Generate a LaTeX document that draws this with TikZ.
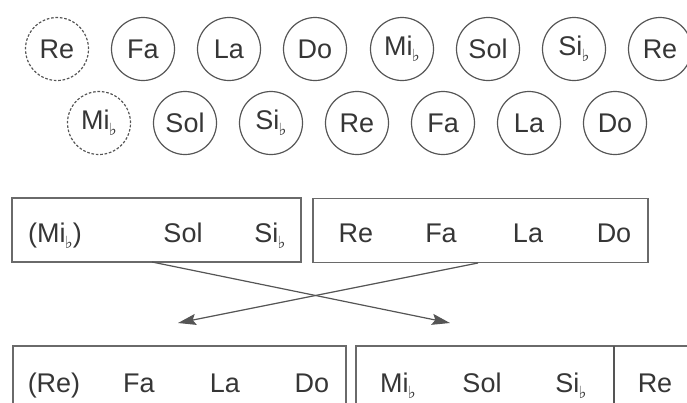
\documentclass[tikz,border=0pt]{standalone}
\usepackage{fontspec}
\setmainfont{Liberation Sans}
\newfontfamily\symfont{DejaVu Sans}
\usetikzlibrary{arrows.meta}
% small lowered flat sign after a note name
\newcommand{\fl}{\kern-0.03em\raisebox{-0.45ex}{\scalebox{0.62}{\symfont ♭}}}
\definecolor{linegray}{HTML}{555555}
\definecolor{framegray}{HTML}{6A6A6A}
\definecolor{textgray}{HTML}{363636}
\begin{document}
\begin{tikzpicture}[x=1pt,y=-1pt,
  font=\fontsize{27}{30}\selectfont,
  note/.style={circle, draw=linegray, line width=1.2pt, minimum size=63pt,
    inner sep=0pt, text=textgray},
  ghost/.style={note, dash pattern=on 2.6pt off 1.8pt},
  frame/.style={draw=framegray, line width=1.3pt, inner sep=0pt},
  lbl/.style={anchor=base, inner sep=0pt, text=textgray},
  link/.style={draw=linegray, line width=1.2pt,
    -{Stealth[length=18pt,width=11pt,inset=3pt]}}]
\useasboundingbox (0,0) rectangle (687,402);
\clip (0,0) rectangle (687,402);

% first row of notes
\node[ghost] (r1a) at (57,49)  {Re};
\node[note]  (r1b) at (143,49) {Fa};
\node[note]  (r1c) at (229,49) {La};
\node[note]  (r1d) at (315,49) {Do};
\node[note]  (r1e) at (402,49) {Mi\fl};
\node[note]  (r1f) at (488,49) {Sol};
\node[note]  (r1g) at (574,49) {Si\fl};
\node[note]  (r1h) at (660,49) {Re};

% second row of notes
\node[ghost] (r2a) at (99,123)  {Mi\fl};
\node[note]  (r2b) at (185,123) {Sol};
\node[note]  (r2c) at (271,123) {Si\fl};
\node[note]  (r2d) at (357,123) {Re};
\node[note]  (r2e) at (443,123) {Fa};
\node[note]  (r2f) at (529,123) {La};
\node[note]  (r2g) at (615,123) {Do};

% upper frames
\node[frame, minimum width=289pt, minimum height=64pt] (top1) at (156.5,230) {};
\node[frame, minimum width=335pt, minimum height=64pt] (top2) at (480.5,230.5) {};
\node[lbl] (t1) at (55,242)  {(Mi\fl)};
\node[lbl] (t2) at (183,242) {Sol};
\node[lbl] (t3) at (270,242) {Si\fl};
\node[lbl] (t4) at (356,242) {Re};
\node[lbl] (t5) at (441,242) {Fa};
\node[lbl] (t6) at (528,242) {La};
\node[lbl] (t7) at (614,242) {Do};

% lower frames, running past the edges
\node[frame, minimum width=333pt, minimum height=70pt] (bot1) at (179.5,381) {};
\node[frame, minimum width=364pt, minimum height=70pt] (bot2) at (538,381) {};
\coordinate (dtop) at (614,346);
\coordinate (dbot) at (614,420);
\draw[draw=linegray, line width=1.4pt] (dtop) -- (dbot);
\node[lbl] (b1) at (54,392)  {(Re)};
\node[lbl] (b2) at (139,392) {Fa};
\node[lbl] (b3) at (225,392) {La};
\node[lbl] (b4) at (312,392) {Do};
\node[lbl] (b5) at (398,392) {Mi\fl};
\node[lbl] (b6) at (482,392) {Sol};
\node[lbl] (b7) at (571,392) {Si\fl};
\node[lbl] (b8) at (655,392) {Re};

% crossing arrows
\coordinate (s1) at (152,262);
\coordinate (e1) at (450,323);
\coordinate (s2) at (478,263);
\coordinate (e2) at (178,323);
\draw[link] (s1) -- (e1);
\draw[link] (s2) -- (e2);
\end{tikzpicture}
\end{document}
